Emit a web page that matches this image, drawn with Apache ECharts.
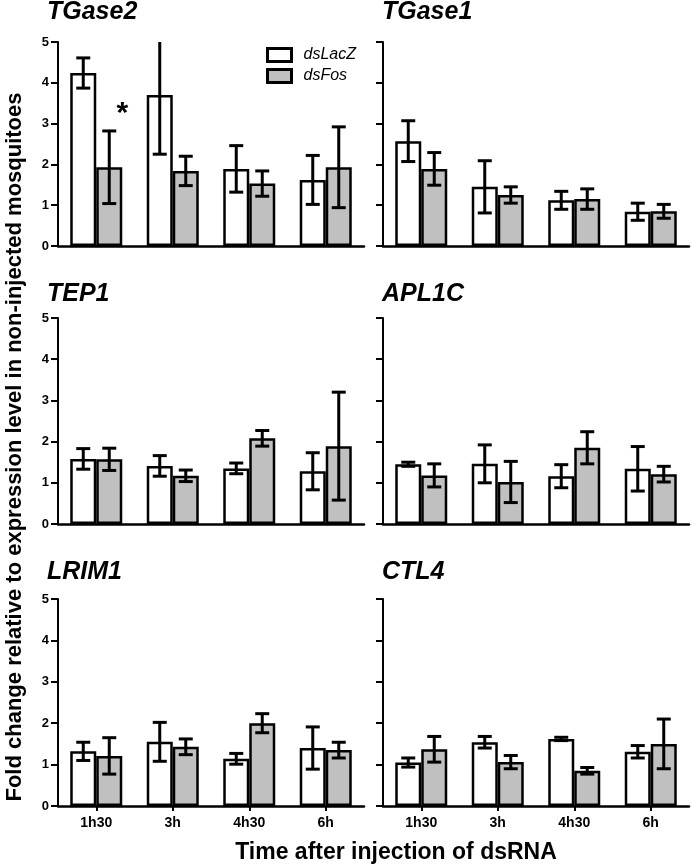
<!DOCTYPE html>
<html>
<head>
<meta charset="utf-8">
<script src="https://cdn.jsdelivr.net/npm/echarts@6/dist/echarts.min.js"></script>
<style>html,body{margin:0;padding:0;background:#fff;}#c{width:700px;height:866px;}</style>
</head>
<body>
<div id="c"></div>
<script>
const categories = ['1h30', '3h', '4h30', '6h'];
const genes = ['TGase2', 'TGase1', 'TEP1', 'APL1C', 'LRIM1', 'CTL4'];

const TGase2_dsLacZ = [4.24, 3.70, 1.89, 1.62];
const TGase2_dsLacZ_err = [0.37, 1.45, 0.57, 0.60];
const TGase2_dsFos = [1.93, 1.84, 1.53, 1.93];
const TGase2_dsFos_err = [0.89, 0.36, 0.31, 0.99];

const TGase1_dsLacZ = [2.57, 1.45, 1.12, 0.84];
const TGase1_dsLacZ_err = [0.50, 0.64, 0.22, 0.21];
const TGase1_dsFos = [1.89, 1.25, 1.15, 0.85];
const TGase1_dsFos_err = [0.40, 0.20, 0.25, 0.17];

const TEP1_dsLacZ = [1.58, 1.41, 1.35, 1.28];
const TEP1_dsLacZ_err = [0.25, 0.25, 0.13, 0.45];
const TEP1_dsFos = [1.57, 1.17, 2.08, 1.89];
const TEP1_dsFos_err = [0.27, 0.14, 0.19, 1.31];

const APL1C_dsLacZ = [1.45, 1.46, 1.16, 1.34];
const APL1C_dsLacZ_err = [0.05, 0.46, 0.28, 0.54];
const APL1C_dsFos = [1.18, 1.02, 1.85, 1.21];
const APL1C_dsFos_err = [0.28, 0.50, 0.39, 0.19];

const LRIM1_dsLacZ = [1.32, 1.55, 1.14, 1.40];
const LRIM1_dsLacZ_err = [0.22, 0.47, 0.13, 0.51];
const LRIM1_dsFos = [1.21, 1.43, 2.00, 1.35];
const LRIM1_dsFos_err = [0.44, 0.19, 0.23, 0.19];

const CTL4_dsLacZ = [1.05, 1.54, 1.62, 1.31];
const CTL4_dsLacZ_err = [0.11, 0.14, 0.04, 0.15];
const CTL4_dsFos = [1.37, 1.06, 0.85, 1.50];
const CTL4_dsFos_err = [0.31, 0.16, 0.08, 0.60];

const significance = { gene: 'TGase2', series: 'dsFos', category: '1h30', y: 3.25, text: '*' };

const panelData = {
  TGase2: [TGase2_dsLacZ, TGase2_dsLacZ_err, TGase2_dsFos, TGase2_dsFos_err],
  TGase1: [TGase1_dsLacZ, TGase1_dsLacZ_err, TGase1_dsFos, TGase1_dsFos_err],
  TEP1: [TEP1_dsLacZ, TEP1_dsLacZ_err, TEP1_dsFos, TEP1_dsFos_err],
  APL1C: [APL1C_dsLacZ, APL1C_dsLacZ_err, APL1C_dsFos, APL1C_dsFos_err],
  LRIM1: [LRIM1_dsLacZ, LRIM1_dsLacZ_err, LRIM1_dsFos, LRIM1_dsFos_err],
  CTL4: [CTL4_dsLacZ, CTL4_dsLacZ_err, CTL4_dsFos, CTL4_dsFos_err]
};

const FONT = '"Liberation Sans", Arial, sans-serif';
const BAR_W = 26;
const gridLefts = [58, 383];
const gridTops = [42, 318, 599];
const gridHeights = [204, 206, 207];
const titleTops = [0, 282, 560];
const titleLefts = [47, 382];

const chart = echarts.init(document.getElementById('c'), null, { renderer: 'canvas' });

function errRender(sign) {
  return function (params, api) {
    const xi = api.value(0), m = api.value(1), e = api.value(2);
    const hi = api.coord([xi, m + e]);
    const lo = api.coord([xi, m - e]);
    const cx = hi[0] + sign * BAR_W / 2;
    const hw = 7;
    const st = { stroke: '#000', lineWidth: 3 };
    return {
      type: 'group',
      children: [
        { type: 'line', shape: { x1: cx, y1: hi[1], x2: cx, y2: lo[1] }, style: st },
        { type: 'line', shape: { x1: cx - hw, y1: hi[1], x2: cx + hw, y2: hi[1] }, style: st },
        { type: 'line', shape: { x1: cx - hw, y1: lo[1], x2: cx + hw, y2: lo[1] }, style: st }
      ]
    };
  };
}

const grids = [], xAxes = [], yAxes = [], series = [], titles = [];
genes.forEach((g, i) => {
  const row = Math.floor(i / 2), col = i % 2;
  grids.push({ left: gridLefts[col], top: gridTops[row], width: 306, height: gridHeights[row] });
  xAxes.push({
    type: 'category', gridIndex: i, data: categories,
    axisLine: { show: true, lineStyle: { color: '#000', width: 2.5 } },
    axisTick: { show: row === 2, alignWithLabel: true, length: 5, lineStyle: { color: '#000', width: 2 } },
    axisLabel: { show: row === 2, color: '#000', fontWeight: 'bold', fontSize: 14, fontFamily: FONT, margin: 10 }
  });
  yAxes.push({
    type: 'value', gridIndex: i, min: 0, max: 5, interval: 1,
    splitLine: { show: false },
    axisLine: { show: true, lineStyle: { color: '#000', width: 2 } },
    axisTick: { show: true, length: 7, lineStyle: { color: '#000', width: 2 } },
    axisLabel: { show: col === 0, color: '#000', fontWeight: 'bold', fontSize: 13, fontFamily: FONT, margin: 9 }
  });
  titles.push({
    text: g, left: titleLefts[col], top: titleTops[row], padding: 0,
    textStyle: { fontSize: 25, fontWeight: 'bold', fontStyle: 'italic', color: '#000', fontFamily: FONT }
  });
  const [lz, lzE, fo, foE] = panelData[g];
  const foSeries = {
    name: 'dsFos', type: 'bar', xAxisIndex: i, yAxisIndex: i, data: fo,
    barWidth: BAR_W, barGap: '0%',
    itemStyle: { color: '#c0c0c0', borderColor: '#000', borderWidth: 2.5 },
    emphasis: { disabled: true }, animation: false
  };
  if (significance.gene === g) {
    foSeries.markPoint = {
      symbol: 'circle', symbolSize: 0, animation: false,
      data: [{ coord: [significance.category, significance.y] }],
      label: { show: true, formatter: significance.text, offset: [BAR_W / 2, 0], color: '#000', fontSize: 30, fontWeight: 'bold', fontFamily: FONT }
    };
  }
  series.push({
    name: 'dsLacZ', type: 'bar', xAxisIndex: i, yAxisIndex: i, data: lz,
    barWidth: BAR_W, barGap: '0%',
    itemStyle: { color: '#ffffff', borderColor: '#000', borderWidth: 2.5 },
    emphasis: { disabled: true }, animation: false
  });
  series.push(foSeries);
  series.push({
    type: 'custom', xAxisIndex: i, yAxisIndex: i, clip: true, z: 5, animation: false,
    renderItem: errRender(-1), data: lz.map((v, k) => [k, v, lzE[k]])
  });
  series.push({
    type: 'custom', xAxisIndex: i, yAxisIndex: i, clip: true, z: 5, animation: false,
    renderItem: errRender(1), data: fo.map((v, k) => [k, v, foE[k]])
  });
});

chart.setOption({
  backgroundColor: '#fff',
  animation: false,
  title: titles,
  grid: grids,
  xAxis: xAxes,
  yAxis: yAxes,
  legend: {
    data: [{ name: 'dsLacZ', icon: 'rect' }, { name: 'dsFos', icon: 'rect' }],
    orient: 'vertical', left: 266, top: 47, padding: 0,
    itemWidth: 24, itemHeight: 13, itemGap: 5, selectedMode: false,
    itemStyle: { borderColor: '#000', borderWidth: 3 },
    textStyle: { fontSize: 16, fontStyle: 'italic', color: '#000', fontFamily: FONT, padding: [0, 0, 0, 7] }
  },
  graphic: [
    {
      type: 'text', x: 15, y: 447, rotation: Math.PI / 2,
      style: { text: 'Fold change relative to expression level in non-injected mosquitoes', font: 'bold 22px ' + FONT, fill: '#000', textAlign: 'center', textVerticalAlign: 'middle' }
    },
    {
      type: 'text', x: 396, y: 853,
      style: { text: 'Time after injection of dsRNA', font: 'bold 23px ' + FONT, fill: '#000', textAlign: 'center', textVerticalAlign: 'middle' }
    }
  ],
  series: series
});
</script>
</body>
</html>
